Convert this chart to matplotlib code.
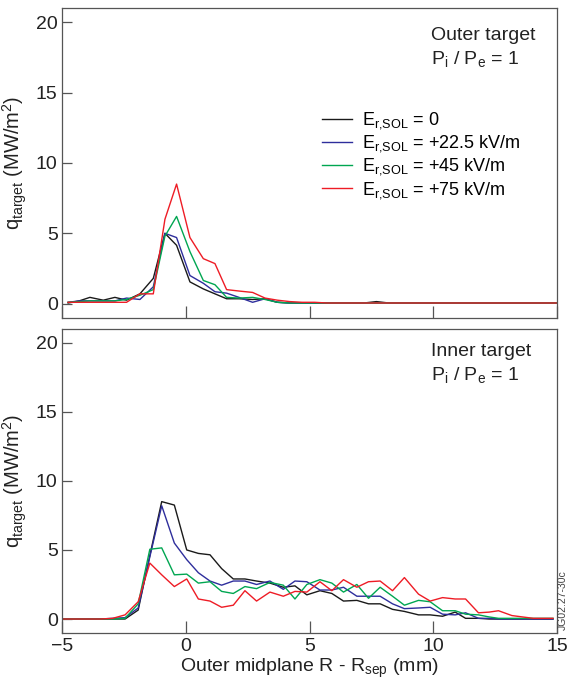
import matplotlib
matplotlib.use('Agg')
import matplotlib.pyplot as plt

plt.rcParams['font.family'] = ['Liberation Sans', 'DejaVu Sans']
plt.rcParams['mathtext.default'] = 'regular'

# ---------------------------------------------------------------------------
# data
# ---------------------------------------------------------------------------
labels = [r'E$_{r{,}SOL}$ = 0', r'E$_{r{,}SOL}$ = +22.5 kV/m',
          r'E$_{r{,}SOL}$ = +45 kV/m', r'E$_{r{,}SOL}$ = +75 kV/m']
colors = ['#1a1a1a', '#2e2e9c', '#00a651', '#ee1c25']

# outer target
x_out = [-4.75, -4.3, -3.87, -3.33, -2.86, -2.39, -1.85, -1.31, -0.84, -0.37,
         0.17, 0.71, 1.18, 1.65, 2.15, 2.7, 3.2, 3.7, 4.2, 4.7,
         5.2, 5.7, 6.2, 6.7, 7.2, 7.7, 8.2, 8.7, 9.2, 9.7,
         10.2, 10.7, 11.2, 11.7, 12.2, 12.7, 13.2, 13.7, 14.2, 14.7, 15.0]
q_out_0 = [0.05, 0.2, 0.45, 0.25, 0.45, 0.25, 0.7, 1.8, 5.0, 4.15,
           1.55, 1.05, 0.7, 0.35, 0.35, 0.3, 0.35, 0.1, 0.05, 0.05,
           0.05, 0.05, 0.05, 0.05, 0.05, 0.15, 0.05, 0.05, 0.05, 0.05,
           0.05, 0.05, 0.05, 0.05, 0.05, 0.05, 0.05, 0.05, 0.05, 0.05, 0.05]
q_out_22 = [0.1, 0.2, 0.2, 0.2, 0.2, 0.4, 0.3, 1.2, 5.0, 4.7,
            2.0, 1.45, 0.85, 0.75, 0.45, 0.1, 0.35, 0.1, 0.05, 0.05,
            0.05, 0.05, 0.05, 0.05, 0.05, 0.05, 0.05, 0.05, 0.05, 0.05,
            0.05, 0.05, 0.05, 0.05, 0.05, 0.05, 0.05, 0.05, 0.05, 0.05, 0.05]
q_out_45 = [0.1, 0.15, 0.2, 0.2, 0.2, 0.3, 0.6, 1.0, 4.8, 6.2,
            3.7, 1.65, 1.35, 0.45, 0.4, 0.45, 0.3, 0.1, 0.05, 0.05,
            0.05, 0.05, 0.05, 0.05, 0.05, 0.05, 0.05, 0.05, 0.05, 0.05,
            0.05, 0.05, 0.05, 0.05, 0.05, 0.05, 0.05, 0.05, 0.05, 0.05, 0.05]
q_out_75 = [0.1, 0.1, 0.1, 0.1, 0.1, 0.1, 0.7, 0.7, 6.0, 8.5,
            4.7, 3.2, 2.85, 1.0, 0.9, 0.8, 0.4, 0.25, 0.15, 0.1,
            0.1, 0.05, 0.05, 0.05, 0.05, 0.05, 0.05, 0.05, 0.05, 0.05,
            0.05, 0.05, 0.05, 0.05, 0.05, 0.05, 0.05, 0.05, 0.05, 0.05, 0.05]

# inner target
x_in = [-5.0, -4.5, -3.95, -3.45, -2.95, -2.45, -1.92, -1.45, -0.97, -0.46,
        0.04, 0.51, 0.98, 1.45, 1.92, 2.39, 2.86, 3.40, 3.94, 4.41,
        4.89, 5.42, 5.90, 6.37, 6.91, 7.38, 7.85, 8.35, 8.83, 9.40,
        9.87, 10.37, 10.88, 11.30, 11.82, 12.25, 12.63, 13.17, 13.60, 14.04,
        14.45, 14.83]
q_in_0 = [0.0, 0.0, 0.0, 0.0, 0.0, 0.0, 0.65, 4.6, 8.5, 8.25,
          5.0, 4.75, 4.65, 3.65, 2.9, 2.9, 2.75, 2.6, 2.3, 2.4,
          1.75, 2.05, 1.85, 1.3, 1.35, 1.1, 1.1, 0.7, 0.55, 0.3,
          0.3, 0.2, 0.5, 0.05, 0.05, 0.0, 0.0, 0.0, 0.0, 0.0,
          0.0, 0.0]
q_in_22 = [0.0, 0.0, 0.0, 0.0, 0.05, 0.1, 0.8, 4.5, 8.2, 5.5,
           4.3, 3.35, 2.75, 2.45, 2.75, 2.75, 2.5, 2.75, 2.15, 2.75,
           2.7, 2.1, 2.1, 2.3, 1.65, 1.65, 1.65, 1.1, 0.75, 0.8,
           0.85, 0.35, 0.3, 0.45, 0.05, 0.05, 0.0, 0.0, 0.0, 0.0,
           0.0, 0.0]
q_in_45 = [0.0, 0.0, 0.0, 0.0, 0.0, 0.05, 1.1, 5.05, 5.15, 3.2,
           3.25, 2.6, 2.7, 2.0, 1.85, 2.35, 2.2, 2.65, 2.45, 1.45,
           2.5, 2.85, 2.6, 1.95, 2.5, 1.5, 2.3, 1.65, 1.0, 1.35,
           1.25, 0.6, 0.6, 0.35, 0.3, 0.15, 0.05, 0.05, 0.05, 0.05,
           0.05, 0.05]
q_in_75 = [0.0, 0.0, 0.0, 0.0, 0.05, 0.3, 1.25, 4.05, 3.2, 2.35,
           2.9, 1.45, 1.3, 0.85, 1.0, 2.05, 1.3, 1.95, 1.65, 2.0,
           1.95, 2.7, 2.05, 2.85, 2.3, 2.7, 2.75, 2.05, 3.0, 1.8,
           1.3, 1.55, 1.45, 1.45, 0.45, 0.5, 0.6, 0.25, 0.15, 0.05,
           0.05, 0.05]

x_ticks = [-5, 0, 5, 10, 15]
y_ticks = [0, 5, 10, 15, 20]

FRAME = '#555555'
TXT = '#222222'
FS = 14

fig = plt.figure(figsize=(5.68, 6.79), dpi=100)
ax_top = fig.add_axes([0.109, 0.532, 0.872, 0.456])
ax_bot = fig.add_axes([0.109, 0.068, 0.872, 0.4475])


def style_axes(ax, show_xlabels):
    ax.set_xlim(-5, 15)
    ax.set_ylim(-1, 21)
    ax.set_xticks(x_ticks)
    ax.set_yticks(y_ticks)
    for s in ax.spines.values():
        s.set_color(FRAME)
        s.set_linewidth(0.9)
    ax.tick_params(axis='both', direction='in', color=FRAME, width=0.9,
                   labelsize=FS, labelcolor=TXT)
    ax.tick_params(axis='x', length=8.5, pad=4)
    ax.tick_params(axis='y', length=7.5, pad=3)
    if not show_xlabels:
        ax.tick_params(axis='x', labelbottom=False)
    ax.set_ylabel(r'q$_{target}$ (MW/m$^{2}$)', fontsize=14.5, color=TXT)
    ax.yaxis.set_label_coords(-0.066, 0.5)


style_axes(ax_top, False)
style_axes(ax_bot, True)

for y, c, lab in zip([q_out_0, q_out_22, q_out_45, q_out_75], colors, labels):
    ax_top.plot(x_out, y, color=c, lw=1.0, label=lab)
for y, c in zip([q_in_0, q_in_22, q_in_45, q_in_75], colors):
    ax_bot.plot(x_in, y, color=c, lw=1.0)

ax_top.legend(loc='upper left', bbox_to_anchor=(0.51, 0.693), frameon=False,
              fontsize=13, handlelength=1.7, handletextpad=0.55,
              labelspacing=0.12, borderaxespad=0)

ax_top.text(0.745, 0.913, 'Outer target', transform=ax_top.transAxes,
            fontsize=FS, va='center', color=TXT)
ax_top.text(0.745, 0.837, r'P$_{i}$ / P$_{e}$ = 1', transform=ax_top.transAxes,
            fontsize=FS, va='center', color=TXT)
ax_bot.text(0.745, 0.925, 'Inner target', transform=ax_bot.transAxes,
            fontsize=FS, va='center', color=TXT)
ax_bot.text(0.745, 0.848, r'P$_{i}$ / P$_{e}$ = 1', transform=ax_bot.transAxes,
            fontsize=FS, va='center', color=TXT)

ax_bot.set_xlabel(r'Outer midplane R - R$_{sep}$ (mm)', fontsize=FS,
                  color=TXT, labelpad=1)

fig.text(0.999, 0.072, 'JG02.27-30c', rotation=90, fontsize=7.5,
         color='#444444', ha='right', va='bottom')

fig.savefig('out.png', dpi=100, facecolor='white')
